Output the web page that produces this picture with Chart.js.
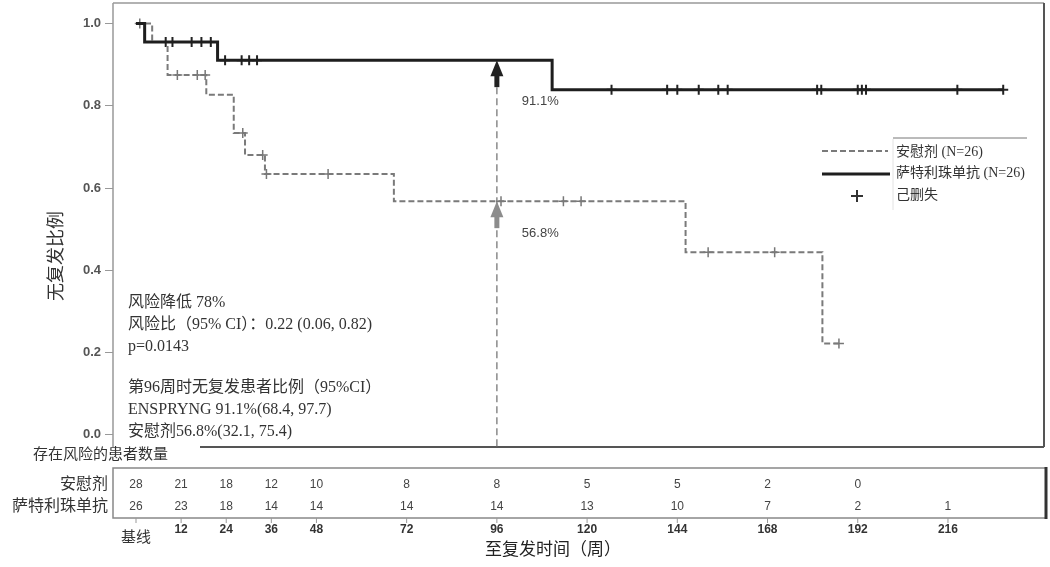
<!DOCTYPE html>
<html>
<head>
<meta charset="utf-8">
<script src="https://cdn.jsdelivr.net/npm/chart.js@4.4.1/dist/chart.umd.min.js"></script>
<style>
  html, body { margin: 0; padding: 0; background: #fff; }
</style>
</head>
<body>
<canvas id="km" width="1050" height="567"></canvas>
<script>
// Kaplan-Meier steps (weeks, proportion relapse-free)
const placeboTimes = [0, 4.3, 8.4, 18.7, 26.0, 29.0, 34.3, 68.6, 146.2, 182.6, 187.0];
const placeboSurv = [1.0, 0.955, 0.875, 0.827, 0.734, 0.680, 0.634, 0.568, 0.444, 0.222, 0.222];
const satraTimes = [0, 2.3, 21.7, 110.7, 230.7];
const satraSurv = [1.0, 0.955, 0.911, 0.839, 0.839];

// censored patients (+ marks)
const placeboCensTimes = [1.0, 11.0, 16.3, 18.4, 28.4, 33.7, 34.7, 51.1, 97.1, 113.7, 118.4, 152.2, 169.9, 187.0];
const placeboCensSurv = [1.0, 0.875, 0.875, 0.875, 0.734, 0.680, 0.634, 0.634, 0.568, 0.568, 0.568, 0.444, 0.444, 0.222];
const satraCensTimes = [7.9, 9.7, 14.8, 17.4, 19.9, 23.7, 28.1, 30.1, 32.2, 126.5, 141.3, 144.0, 149.7, 154.9, 157.4, 181.2, 182.3, 192.0, 193.1, 194.2, 218.5, 230.7];
const satraCensSurv = [0.955, 0.955, 0.955, 0.955, 0.955, 0.911, 0.911, 0.911, 0.911, 0.839, 0.839, 0.839, 0.839, 0.839, 0.839, 0.839, 0.839, 0.839, 0.839, 0.839, 0.839, 0.839];

// number at risk table
const riskWeeks = [0, 12, 24, 36, 48, 72, 96, 120, 144, 168, 192, 216];
const riskTickLabels = ['基线', '12', '24', '36', '48', '72', '96', '120', '144', '168', '192', '216'];
const placeboAtRisk = [28, 21, 18, 12, 10, 8, 8, 5, 5, 2, 0, null];
const satraAtRisk = [26, 23, 18, 14, 14, 14, 14, 13, 10, 7, 2, 1];

const yTicks = [0, 0.2, 0.4, 0.6, 0.8, 1.0];
const markWeek = 96;
const markPlacebo = 0.568;
const markSatra = 0.911;

const noteLines = [
  '风险降低 78%',
  '风险比（95% CI）：0.22 (0.06, 0.82)',
  'p=0.0143',
  '',
  '第96周时无复发患者比例（95%CI）',
  'ENSPRYNG 91.1%(68.4, 97.7)',
  '安慰剂56.8%(32.1, 75.4)'
];

const SERIF = '"Liberation Serif", "Noto Sans CJK SC", serif';
const SANS = '"Liberation Sans", Arial, sans-serif';

function pts(xs, ys) {
  return xs.map((x, i) => ({ x: x, y: ys[i] }));
}

const decor = {
  id: 'decor',
  beforeDatasetsDraw(chart) {
    const ctx = chart.ctx;
    const a = chart.chartArea;
    ctx.save();
    // plot frame
    ctx.lineWidth = 1.5;
    ctx.strokeStyle = '#999';
    ctx.beginPath();
    ctx.moveTo(a.left, a.top); ctx.lineTo(a.right, a.top);
    ctx.moveTo(a.left, a.top); ctx.lineTo(a.left, a.bottom);
    ctx.stroke();
    ctx.strokeStyle = '#555';
    ctx.lineWidth = 2;
    ctx.beginPath();
    ctx.moveTo(a.right, a.top); ctx.lineTo(a.right, a.bottom);
    ctx.moveTo(200, a.bottom); ctx.lineTo(a.right, a.bottom);
    ctx.stroke();

    // reference line at week 96
    const xs = chart.scales.x, ys = chart.scales.y;
    const x96 = xs.getPixelForValue(markWeek);
    const yS = ys.getPixelForValue(markSatra);
    ctx.strokeStyle = '#8a8a8a';
    ctx.lineWidth = 1.5;
    ctx.setLineDash([7, 4]);
    ctx.beginPath();
    ctx.moveTo(x96, yS + 27);
    ctx.lineTo(x96, a.bottom);
    ctx.stroke();
    ctx.restore();
  },
  afterDatasetsDraw(chart) {
    const ctx = chart.ctx;
    const xs = chart.scales.x, ys = chart.scales.y;
    const x96 = xs.getPixelForValue(markWeek);
    const yS = ys.getPixelForValue(markSatra);
    const yP = ys.getPixelForValue(markPlacebo);
    ctx.save();
    function arrow(tip, color) {
      ctx.fillStyle = color;
      ctx.beginPath();
      ctx.moveTo(x96, tip);
      ctx.lineTo(x96 + 6.5, tip + 16);
      ctx.lineTo(x96 - 6.5, tip + 16);
      ctx.closePath();
      ctx.fill();
      ctx.fillRect(x96 - 2.5, tip + 14, 5, 13);
    }
    arrow(yS, '#222');
    arrow(yP, '#8c8c8c');

    ctx.font = '13px ' + SANS;
    ctx.fillStyle = '#444';
    ctx.textAlign = 'left';
    ctx.textBaseline = 'middle';
    ctx.fillText((markSatra * 100).toFixed(1) + '%', x96 + 25, yS + 41);
    ctx.fillText((markPlacebo * 100).toFixed(1) + '%', x96 + 25, yP + 32);
    ctx.restore();
  },
  afterDraw(chart) {
    const ctx = chart.ctx;
    const a = chart.chartArea;
    const xs = chart.scales.x;
    ctx.save();

    // y axis title
    ctx.save();
    ctx.translate(57, 256);
    ctx.rotate(-Math.PI / 2);
    ctx.font = '18px ' + SERIF;
    ctx.fillStyle = '#333';
    ctx.textAlign = 'center';
    ctx.textBaseline = 'middle';
    ctx.fillText('无复发比例', 0, 0);
    ctx.restore();

    // notes block
    ctx.font = '16px ' + SERIF;
    ctx.fillStyle = '#333';
    ctx.textAlign = 'left';
    ctx.textBaseline = 'middle';
    const noteY = [303, 325, 347, 0, 388, 410, 432];
    noteLines.forEach((t, i) => { if (t) ctx.fillText(t, 128, noteY[i]); });

    // legend
    ctx.strokeStyle = '#777';
    ctx.lineWidth = 1;
    ctx.beginPath();
    ctx.moveTo(893, 138); ctx.lineTo(1027, 138);
    ctx.stroke();
    ctx.strokeStyle = '#e2e2e2';
    ctx.beginPath();
    ctx.moveTo(893, 139); ctx.lineTo(893, 210);
    ctx.stroke();
    ctx.strokeStyle = '#7a7a7a';
    ctx.lineWidth = 2;
    ctx.setLineDash([6, 3]);
    ctx.beginPath();
    ctx.moveTo(822, 151); ctx.lineTo(888, 151);
    ctx.stroke();
    ctx.setLineDash([]);
    ctx.strokeStyle = '#1e1e1e';
    ctx.lineWidth = 3;
    ctx.beginPath();
    ctx.moveTo(822, 174); ctx.lineTo(890, 174);
    ctx.stroke();
    ctx.lineWidth = 2;
    ctx.strokeStyle = '#333';
    ctx.beginPath();
    ctx.moveTo(851, 196); ctx.lineTo(863, 196);
    ctx.moveTo(857, 190); ctx.lineTo(857, 202);
    ctx.stroke();
    ctx.font = '14px ' + SERIF;
    ctx.fillStyle = '#333';
    ctx.fillText('安慰剂 (N=26)', 896, 152);
    ctx.fillText('萨特利珠单抗 (N=26)', 896, 173);
    ctx.fillText('己删失', 896, 195);

    // risk table
    const top = 468, bot = 518;
    ctx.strokeStyle = '#888';
    ctx.lineWidth = 1.5;
    ctx.strokeRect(a.left, top, 1046 - a.left, bot - top);
    ctx.strokeStyle = '#333';
    ctx.lineWidth = 3;
    ctx.beginPath();
    ctx.moveTo(1046, top - 1); ctx.lineTo(1046, bot + 1);
    ctx.stroke();

    ctx.font = '15px ' + SERIF;
    ctx.fillStyle = '#333';
    ctx.textAlign = 'left';
    ctx.fillText('存在风险的患者数量', 33, 455);
    ctx.font = '16px ' + SERIF;
    ctx.textAlign = 'right';
    ctx.fillText('安慰剂', 108, 485);
    ctx.fillText('萨特利珠单抗', 108, 507);

    ctx.textAlign = 'center';
    ctx.strokeStyle = '#999';
    ctx.lineWidth = 1;
    riskWeeks.forEach((w, i) => {
      const px = xs.getPixelForValue(w);
      ctx.font = '12px ' + SANS;
      ctx.fillStyle = '#444';
      if (placeboAtRisk[i] !== null) ctx.fillText(String(placeboAtRisk[i]), px, 485);
      if (satraAtRisk[i] !== null) ctx.fillText(String(satraAtRisk[i]), px, 507);
      ctx.beginPath();
      ctx.moveTo(px, bot); ctx.lineTo(px, bot + 5);
      ctx.stroke();
      ctx.fillStyle = '#333';
      if (i === 0) {
        ctx.font = '15px ' + SERIF;
        ctx.fillText(riskTickLabels[i], px, 538);
      } else {
        ctx.font = 'bold 12px ' + SANS;
        ctx.fillText(riskTickLabels[i], px, 530);
      }
    });

    ctx.font = '17px ' + SERIF;
    ctx.fillStyle = '#222';
    ctx.fillText('至复发时间（周）', 553, 551);
    ctx.restore();
  }
};

new Chart(document.getElementById('km'), {
  type: 'scatter',
  data: {
    datasets: [
      {
        label: '萨特利珠单抗 (N=26)',
        data: pts(satraTimes, satraSurv),
        showLine: true,
        stepped: true,
        borderColor: '#1e1e1e',
        borderWidth: 3,
        pointRadius: 0
      },
      {
        label: '安慰剂 (N=26)',
        data: pts(placeboTimes, placeboSurv),
        showLine: true,
        stepped: true,
        borderColor: '#7a7a7a',
        borderWidth: 2,
        borderDash: [6, 3],
        pointRadius: 0
      },
      {
        label: '己删失',
        data: pts(satraCensTimes, satraCensSurv),
        pointStyle: 'cross',
        pointRadius: 5,
        borderColor: '#222',
        borderWidth: 2
      },
      {
        label: '己删失 placebo',
        data: pts(placeboCensTimes, placeboCensSurv),
        pointStyle: 'cross',
        pointRadius: 5,
        borderColor: '#777',
        borderWidth: 1.5
      }
    ]
  },
  options: {
    responsive: false,
    animation: false,
    layout: { autoPadding: false, padding: { left: 0, top: 3, right: 6, bottom: 120 } },
    plugins: { legend: { display: false }, tooltip: { enabled: false } },
    scales: {
      x: { type: 'linear', min: -6.12, max: 241.55, display: false },
      y: {
        min: -0.03,
        max: 1.05,
        afterFit: s => { s.width = 113; s.paddingTop = 0; s.paddingBottom = 0; },
        afterBuildTicks: s => { s.ticks = yTicks.map(v => ({ value: v })); },
        ticks: {
          callback: v => v.toFixed(1),
          color: '#555',
          font: { family: SANS, size: 13, weight: 'bold' },
          padding: 4
        },
        grid: { drawOnChartArea: false, tickLength: 8, color: '#999' },
        border: { display: false }
      }
    }
  },
  plugins: [decor]
});
</script>
</body>
</html>
